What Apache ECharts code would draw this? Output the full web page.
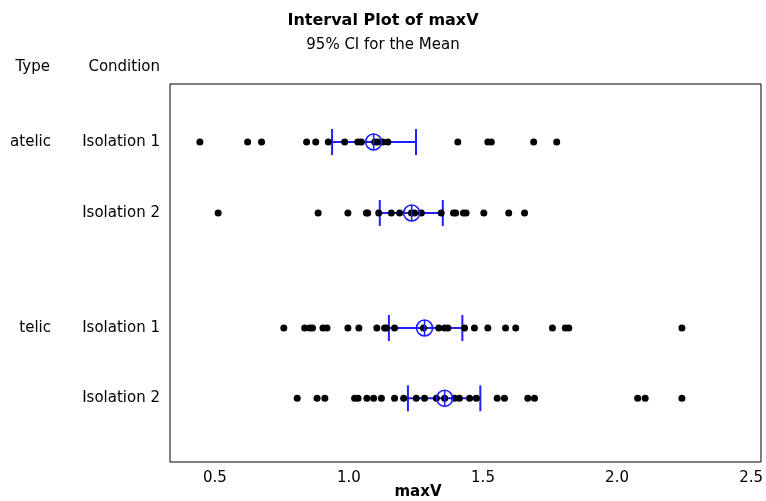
<!DOCTYPE html>
<html>
<head>
<meta charset="utf-8">
<script src="https://cdn.jsdelivr.net/npm/echarts@6/dist/echarts.min.js"></script>
<style>
html,body{margin:0;padding:0;background:#fff;}
#chart{width:766px;height:501px;}
</style>
</head>
<body>
<div id="chart"></div>
<script>
// ---- data ----
const conditions = ['Isolation 1', 'Isolation 2', 'Isolation 1', 'Isolation 2'];
const types = ['atelic', '', 'telic', ''];
const atelicIso1 = [0.444, 0.622, 0.674, 0.842, 0.876, 0.923, 0.984, 1.033, 1.046, 1.096, 1.107, 1.126, 1.145, 1.406, 1.518, 1.531, 1.689, 1.775];
const atelicIso2 = [0.512, 0.885, 0.996, 1.065, 1.070, 1.111, 1.158, 1.189, 1.233, 1.245, 1.270, 1.344, 1.390, 1.398, 1.427, 1.437, 1.503, 1.596, 1.655];
const telicIso1 = [0.757, 0.835, 0.854, 0.864, 0.903, 0.918, 0.996, 1.037, 1.104, 1.133, 1.139, 1.170, 1.278, 1.335, 1.357, 1.369, 1.431, 1.468, 1.518, 1.584, 1.622, 1.759, 1.807, 1.820, 2.242];
const telicIso2 = [0.807, 0.881, 0.910, 1.021, 1.034, 1.067, 1.092, 1.121, 1.170, 1.204, 1.251, 1.282, 1.326, 1.357, 1.394, 1.412, 1.450, 1.475, 1.553, 1.580, 1.667, 1.692, 2.077, 2.105, 2.242];
const means = [1.092, 1.234, 1.282, 1.357];
const ciLow = [0.937, 1.115, 1.149, 1.220];
const ciHigh = [1.250, 1.350, 1.423, 1.490];
const xTicks = [0.5, 1.0, 1.5, 2.0, 2.5];

// ---- layout ----
const groups = [atelicIso1, atelicIso2, telicIso1, telicIso2];
const rowPos = [1, 2, 3.62, 4.61];
const FONT = 'DejaVu Sans';
const BLUE = '#2020ff';

const points = [];
groups.forEach((g, i) => g.forEach(v => points.push([v, rowPos[i]])));
const ciData = means.map((m, i) => [ciLow[i], ciHigh[i], m, rowPos[i]]);

function nearestIndex(v) {
  let best = 0, d = Infinity;
  rowPos.forEach((p, i) => { const dd = Math.abs(p - v); if (dd < d) { d = dd; best = i; } });
  return best;
}

const chart = echarts.init(document.getElementById('chart'), null, {renderer: 'canvas'});
chart.setOption({
  animation: false,
  backgroundColor: '#fff',
  title: {
    text: 'Interval Plot of maxV',
    subtext: '95% CI for the Mean',
    left: 'center',
    top: 8,
    itemGap: 9,
    textStyle: {fontFamily: FONT, fontSize: 16, fontWeight: 'bold', color: '#000'},
    subtextStyle: {fontFamily: FONT, fontSize: 15, color: '#000'}
  },
  grid: {left: 170, right: 4, top: 84, bottom: 39, show: true, borderColor: '#000', borderWidth: 1, backgroundColor: 'transparent'},
  xAxis: {
    type: 'value', min: 0.3324, max: 2.537,
    axisLine: {show: false}, axisTick: {show: false}, splitLine: {show: false},
    axisLabel: {customValues: xTicks, formatter: v => v.toFixed(1), fontFamily: FONT, fontSize: 15, color: '#000', margin: 9}
  },
  yAxis: [
    {
      type: 'value', inverse: true, min: 0.183, max: 5.507, position: 'left',
      axisLine: {show: false}, axisTick: {show: false}, splitLine: {show: false},
      axisLabel: {customValues: rowPos, formatter: v => conditions[nearestIndex(v)], fontFamily: FONT, fontSize: 15, color: '#000', margin: 10}
    },
    {
      type: 'value', inverse: true, min: 0.183, max: 5.507, position: 'left',
      axisLine: {show: false}, axisTick: {show: false}, splitLine: {show: false},
      axisLabel: {customValues: [rowPos[0], rowPos[2]], formatter: v => types[nearestIndex(v)], fontFamily: FONT, fontSize: 15, color: '#000', margin: 119}
    }
  ],
  graphic: [
    {type: 'text', x: 50, y: 67, style: {text: 'Type', fontFamily: FONT, fontSize: 15, fill: '#000', align: 'right', verticalAlign: 'middle'}},
    {type: 'text', x: 160, y: 67, style: {text: 'Condition', fontFamily: FONT, fontSize: 15, fill: '#000', align: 'right', verticalAlign: 'middle'}},
    {type: 'text', x: 418, y: 492, style: {text: 'maxV', fontFamily: FONT, fontSize: 15, fontWeight: 'bold', fill: '#000', align: 'center', verticalAlign: 'middle'}}
  ],
  series: [
    {
      type: 'custom', z: 1, silent: true,
      data: ciData,
      renderItem: (params, api) => {
        const lo = api.coord([api.value(0), api.value(3)]);
        const hi = api.coord([api.value(1), api.value(3)]);
        const cap = 13;
        return {type: 'group', children: [
          {type: 'line', shape: {x1: lo[0], y1: lo[1], x2: hi[0], y2: hi[1]}, style: {stroke: BLUE, lineWidth: 2}},
          {type: 'line', shape: {x1: lo[0], y1: lo[1] - cap, x2: lo[0], y2: lo[1] + cap}, style: {stroke: BLUE, lineWidth: 2}},
          {type: 'line', shape: {x1: hi[0], y1: hi[1] - cap, x2: hi[0], y2: hi[1] + cap}, style: {stroke: BLUE, lineWidth: 2}}
        ]};
      }
    },
    {
      type: 'scatter', z: 2, silent: true,
      data: points, symbol: 'circle', symbolSize: 7,
      itemStyle: {color: '#000', opacity: 1}
    },
    {
      type: 'custom', z: 3, silent: true,
      data: ciData,
      renderItem: (params, api) => {
        const c = api.coord([api.value(2), api.value(3)]);
        const r = 8;
        return {type: 'group', children: [
          {type: 'circle', shape: {cx: c[0], cy: c[1], r: r}, style: {fill: 'none', stroke: BLUE, lineWidth: 1.6}},
          {type: 'line', shape: {x1: c[0], y1: c[1] - r, x2: c[0], y2: c[1] + r}, style: {stroke: BLUE, lineWidth: 1.6}}
        ]};
      }
    }
  ]
});
</script>
</body>
</html>
